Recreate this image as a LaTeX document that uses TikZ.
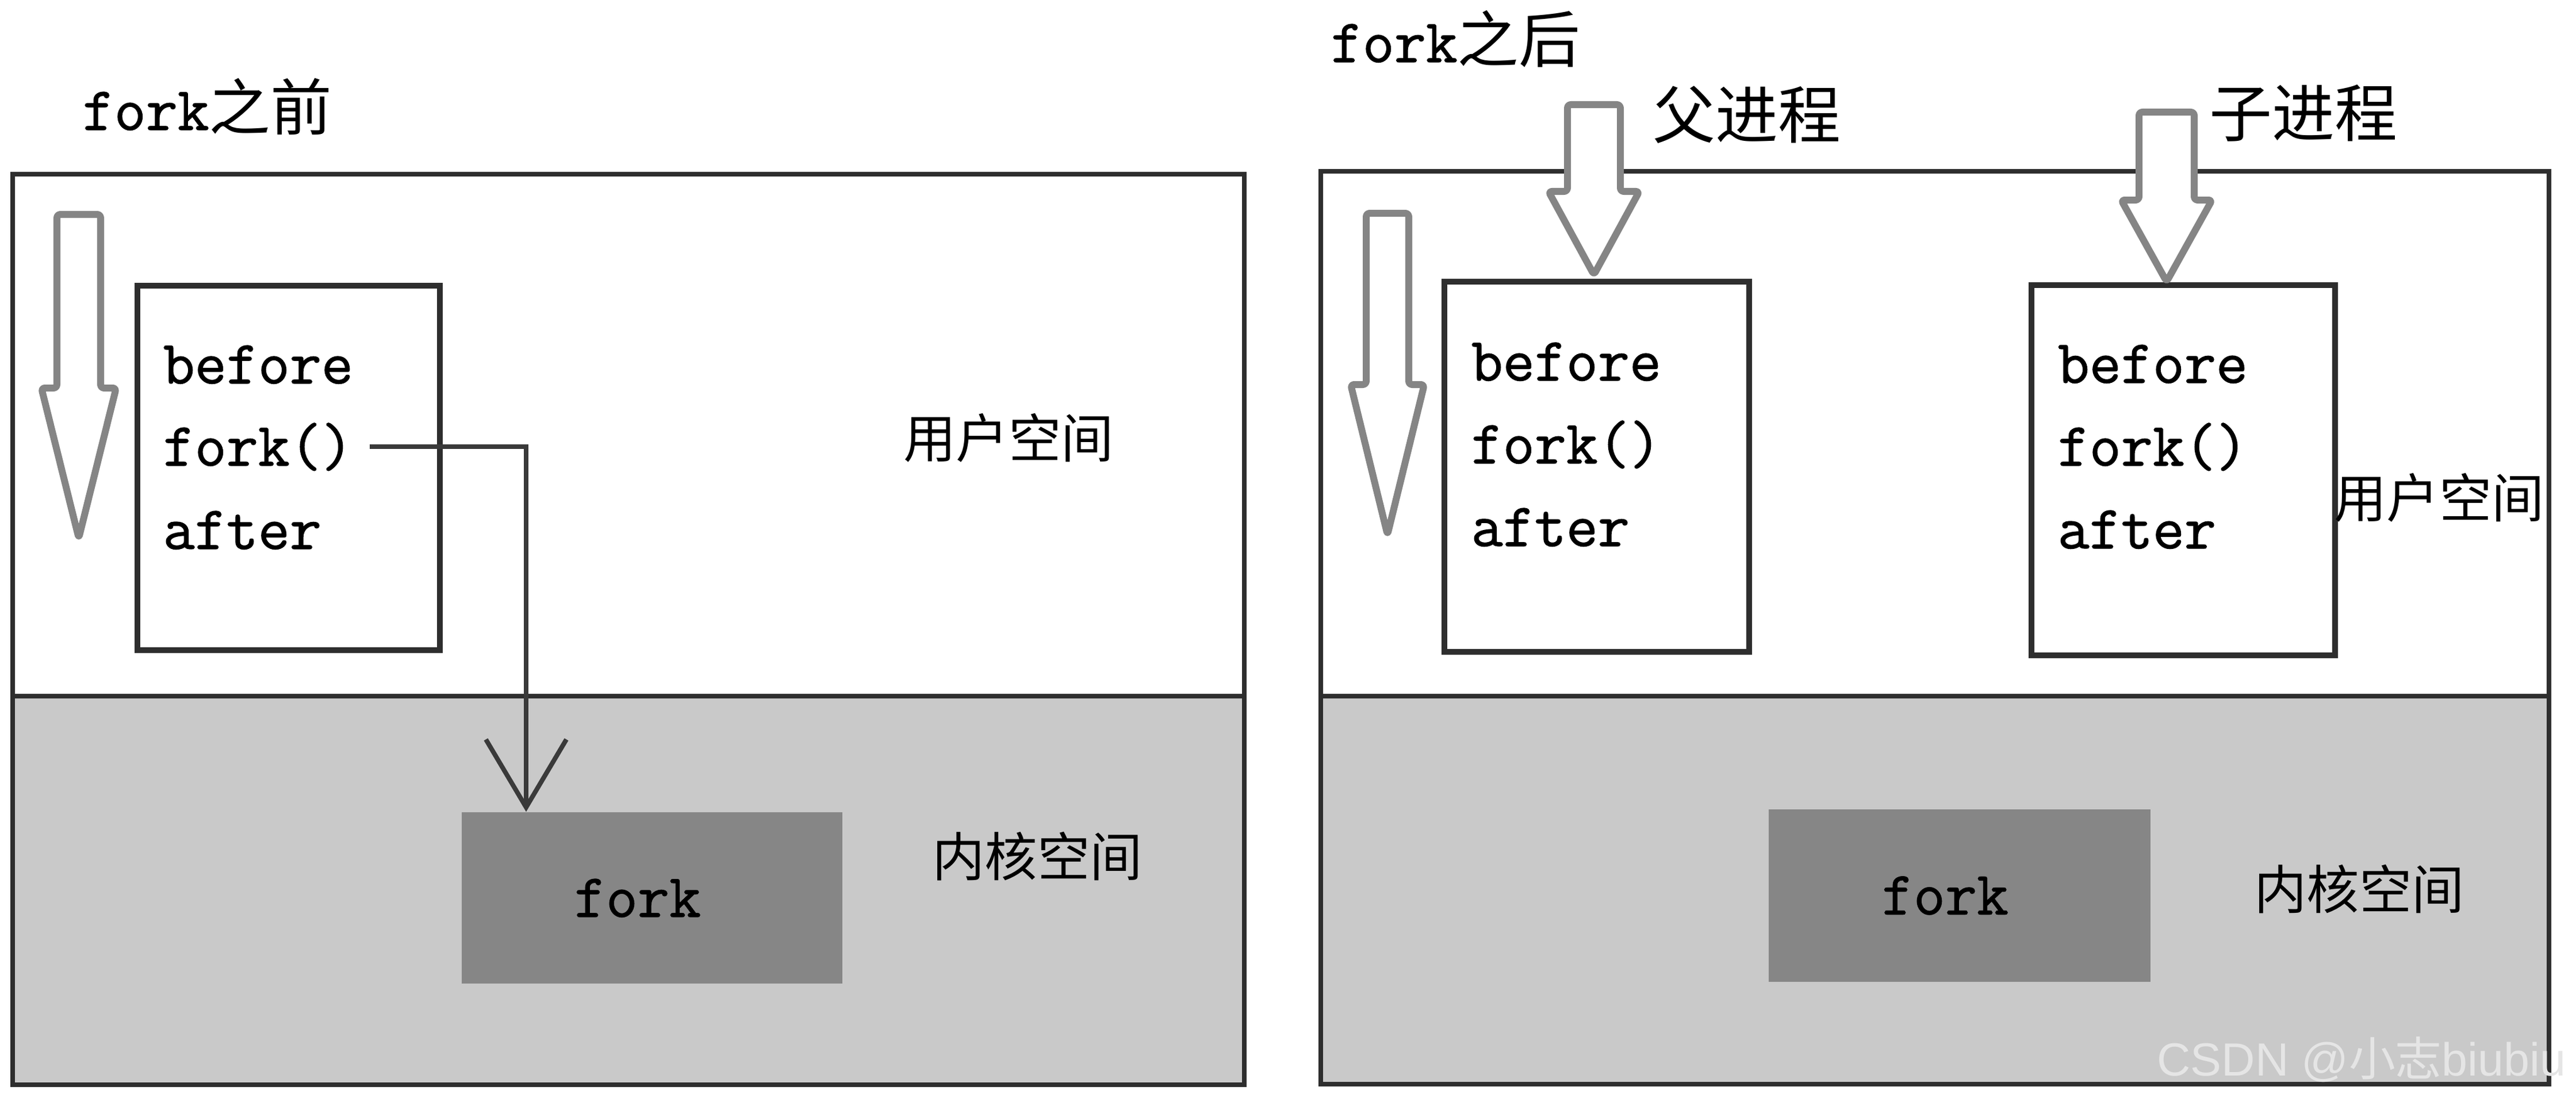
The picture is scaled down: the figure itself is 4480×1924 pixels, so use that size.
\documentclass[tikz,border=0pt]{standalone}
\usepackage{fontspec}
\newfontfamily\cjk{Noto Sans CJK SC}
\newfontfamily\wmfont{Liberation Sans}
\newfontfamily\codefont{Latin Modern Mono}[FakeBold=1.2]
\usetikzlibrary{arrows.meta}
\definecolor{bord}{HTML}{2E2E2E}
\definecolor{kernbg}{HTML}{C9C9C9}
\definecolor{kboxc}{HTML}{868686}
\definecolor{arrgray}{HTML}{858585}
\definecolor{connc}{HTML}{3A3A3A}
\tikzset{
  panel/.style={draw=bord, line width=0.08cm},
  procbox/.style={draw=bord, line width=0.1cm, fill=white, inner sep=0pt},
  kbox/.style={fill=kboxc, inner sep=0pt, font=\fontsize{30.4}{36}\selectfont\codefont},
  code/.style={anchor=base west, inner sep=0pt, font=\fontsize{30.4}{36}\selectfont\codefont},
  zh/.style={inner sep=0pt, font=\fontsize{26}{32}\selectfont\cjk},
  zhbig/.style={inner sep=0pt, font=\fontsize{31}{36}\selectfont\cjk},
  blk/.style={draw=arrgray, line width=0.12cm, fill=white, rounded corners=0.06cm, line join=round},
  conn/.style={draw=connc, line width=0.08cm},
  wm/.style={inner sep=0pt, text=white!90!black, font=\fontsize{23}{28}\selectfont\wmfont},
}
\newcommand\blkarrow[6]{%
  \draw[blk] ({#1-#3},#2) -- ({#1+#3},#2) -- ({#1+#3},#5) -- ({#1+#4},#5)
    -- (#1,#6) -- ({#1-#4},#5) -- ({#1-#3},#5) -- cycle;}
\begin{document}
\begin{tikzpicture}[x=0.01cm,y=-0.01cm]
\useasboundingbox[fill=white] (0,0) rectangle (4480,1924);

% ---------- left panel: before fork ----------
\node[code] (t1) at (143,226) {fork{\cjk 之前}};
\fill[kernbg] (22,1211) rectangle (2164,1887);
\draw[panel] (22,303) rectangle (2164,1887);
\draw[panel] (22,1211) -- (2164,1211);
\blkarrow{137}{373}{38}{65}{675}{936}
\node[procbox, minimum width=5.26cm, minimum height=6.34cm] (p1) at (502,814) {};
\node[code] (b1) at (283,667) {before};
\node[code] (f1) at (283,810) {fork()};
\node[code] (a1) at (283,955) {after};
\node[kbox, minimum width=6.62cm, minimum height=2.98cm, text depth=0pt] (kf1) at (1134,1562) {\hspace*{-0.5cm}fork};
\coordinate (c1) at (915,787);
\draw[conn, -{Straight Barb[length=1.18cm, width=1.4cm]}]
  ([xshift=0.28cm]f1.east) -| (kf1.north -| c1);
\node[zh] (u1) at (1754,762) {用户空间};
\node[zh] (k1) at (1804,1490) {内核空间};

% ---------- right panel: after fork ----------
\node[code] (t2) at (2314,108) {fork{\cjk 之后}};
\fill[kernbg] (2297,1211) rectangle (4433,1886);
\draw[panel] (2297,298) rectangle (4433,1886);
\draw[panel] (2297,1211) -- (4433,1211);
\blkarrow{2413}{371}{37}{64}{669}{930}
\node[procbox, minimum width=5.29cm, minimum height=6.43cm] (p2) at (2777,812) {};
\node[code] (b2) at (2558,662) {before};
\node[code] (f2) at (2558,806) {fork()};
\node[code] (a2) at (2558,950) {after};
\node[procbox, minimum width=5.27cm, minimum height=6.43cm] (p3) at (3797,818) {};
\node[code] (b3) at (3578,666) {before};
\node[code] (f3) at (3578,810) {fork()};
\node[code] (a3) at (3578,954) {after};
\blkarrow{2772}{182}{46}{79}{333}{478}
\blkarrow{3768}{195}{48}{79}{348}{490}
\node[zhbig] (fp) at (3038,200) {父进程};
\node[zhbig] (cp) at (4006,197) {子进程};
\node[kbox, minimum width=6.63cm, minimum height=3.0cm] (kf2) at (3408,1558) {\hspace*{-0.5cm}fork};
\node[zh] (u2) at (4242,866) {用户空间};
\node[zh] (k2) at (4103,1547) {内核空间};

\node[wm] (wmk) at (4107,1843) {CSDN @{\cjk 小志}biubiu};
\end{tikzpicture}
\end{document}
